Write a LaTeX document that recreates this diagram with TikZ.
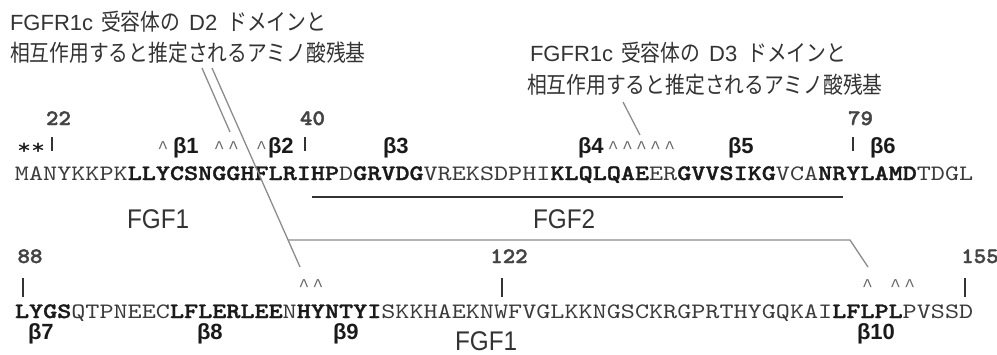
\documentclass[tikz,border=0pt]{standalone}
\usepackage{fontspec}
\setmainfont{Liberation Sans}
\newfontfamily\jpfont{Noto Sans CJK JP}[FakeStretch=0.86]
\newfontfamily\latfont{Liberation Sans}
\newfontfamily\labfont{Liberation Sans}[FakeStretch=0.9]
\newfontfamily\crtfont{Liberation Mono}
\newfontfamily\seqfont{lmmono10-regular.otf}[FakeStretch=1.22, BoldFont=lmmonolt10-bold.otf, BoldFeatures={FakeBold=1.5}]
\newfontfamily\numfont{lmmonolt10-bold.otf}[FakeBold=2, FakeStretch=1.08]
\definecolor{txt}{HTML}{333333}
\definecolor{seqn}{HTML}{3A3A3A}
\definecolor{seqb}{HTML}{1A1A1A}
\definecolor{numc}{HTML}{444444}
\definecolor{conn}{HTML}{8C8C8C}
\definecolor{mark}{HTML}{666666}
\newcommand\jpf{\jpfont\fontsize{23}{25}\selectfont}
\newcommand\latf{\latfont\fontsize{22}{25}\selectfont}
\newcommand\sqb[1]{{\bfseries\color{seqb}#1}}
\newcommand\crt{\textasciicircum}
\begin{document}
\begin{tikzpicture}[x=1pt,y=-1pt,
  every node/.style={inner sep=0pt, outer sep=0pt},
  jplbl/.style={anchor=base west, text=txt},
  seqline/.style={anchor=base west, text=seqn, font=\seqfont\fontsize{22}{24}\selectfont},
  caret/.style={anchor=base, text=mark, font=\crtfont\fontsize{18}{20}\selectfont},
  star/.style={anchor=base west, text=seqb, font=\seqfont\fontsize{22}{24}\selectfont},
  numlbl/.style={anchor=base, text=numc, font=\numfont\fontsize{22}{24}\selectfont},
  betalbl/.style={anchor=base west, text=seqb, font=\latfont\bfseries\fontsize{22}{24}\selectfont},
  fgflbl/.style={anchor=base west, text=txt, font=\labfont\fontsize{27}{30}\selectfont},
  conn/.style={draw=conn, line width=1.3pt},
  bar/.style={draw=txt, line width=1.6pt},
  uline/.style={draw=txt, line width=1.6pt}]
\useasboundingbox (0,0) rectangle (997,354);

% labels at top
\node[jplbl] (d2a) at (10,30.5) {\latf FGFR1c\hspace{8pt}\jpf 受容体の\hspace{9pt}\latf D2\hspace{10pt}\jpf ドメインと};
\node[jplbl] (d2b) at (10,61.5) {\jpf 相互作用すると推定されるアミノ酸残基};
\node[jplbl] (d3a) at (530,61.5) {\latf FGFR1c\hspace{8pt}\jpf 受容体の\hspace{9pt}\latf D3\hspace{10pt}\jpf ドメインと};
\node[jplbl] (d3b) at (527,93.5) {\jpf 相互作用すると推定されるアミノ酸残基};

% numbers
\node[numlbl] (n22) at (58.5,125) {22};
\node[numlbl] (n40) at (312.5,125) {40};
\node[numlbl] (n79) at (860.5,125) {79};
\node[numlbl] (n88) at (30,263) {88};
\node[numlbl] (n122) at (509,263) {122};
\node[numlbl] (n155) at (980,263) {155};

% row 1 markers
\node[star] (stars) at (17,154) {**};
\foreach \i/\x in {1/163, 2/219.3, 3/233.4, 4/261.5, 5/613.3, 6/627.4, 7/641.5, 8/655.6, 9/669.7}
  \node[caret] (ca\i) at (\x,153.5) {\crt};
\node[betalbl] (b1) at (173,153) {β1};
\node[betalbl] (b2) at (268,153) {β2};
\node[betalbl] (b3) at (383,153) {β3};
\node[betalbl] (b4) at (578,153) {β4};
\node[betalbl] (b5) at (728,153) {β5};
\node[betalbl] (b6) at (870,153) {β6};
\coordinate (t1a) at (52,137); \coordinate (t1b) at (52,151);
\coordinate (t2a) at (305,137); \coordinate (t2b) at (305,151);
\coordinate (t3a) at (853,137); \coordinate (t3b) at (853,151);
\draw[bar] (t1a) -- (t1b);
\draw[bar] (t2a) -- (t2b);
\draw[bar] (t3a) -- (t3b);

% sequence line 1
\node[seqline] (seq1) at (15,180) {MANYKKPK\sqb{LLYCSNGGHFLRIHP}D\sqb{GRVDG}VREKSDPHI\sqb{KLQLQAE}ER\sqb{GVVSIKG}VCA\sqb{NRYLAMD}TDGL};

% underline and labels
\coordinate (u1) at (312,197); \coordinate (u2) at (843,197);
\draw[uline] (u1) -- (u2);
\node[fgflbl] (fgf1a) at (127,228) {FGF1};
\node[fgflbl] (fgf2) at (533,228) {FGF2};

% row 2 markers
\foreach \i/\x in {1/303.9, 2/318, 3/867.4, 4/895.6, 5/909.7}
  \node[caret] (cb\i) at (\x,291.5) {\crt};
\coordinate (t4a) at (23,278); \coordinate (t4b) at (23,297);
\coordinate (t5a) at (502,278); \coordinate (t5b) at (502,297);
\coordinate (t6a) at (965,278); \coordinate (t6b) at (965,297);
\draw[bar] (t4a) -- (t4b);
\draw[bar] (t5a) -- (t5b);
\draw[bar] (t6a) -- (t6b);

% sequence line 2
\node[seqline] (seq2) at (15,318) {\sqb{LYGS}QTPNEEC\sqb{LFLERLEE}N\sqb{HYNTYI}SKKHAEKNWFVGLKKNGSCKRGPRTHYGQKAI\sqb{LFLPL}PVSSD};

\node[betalbl] (b7) at (28,339) {β7};
\node[betalbl] (b8) at (197,339) {β8};
\node[betalbl] (b9) at (333,339) {β9};
\node[betalbl] (b10) at (857,339) {β10};
\node[fgflbl] (fgf1b) at (455,350) {FGF1};

% connector lines
\coordinate (s1) at (202,68); \coordinate (e1) at (230,132);
\coordinate (s2) at (212,68); \coordinate (e2) at (300,267);
\coordinate (br) at (288.1,240); \coordinate (k1) at (850,240); \coordinate (e3) at (868,267);
\coordinate (s3) at (623,102); \coordinate (e4) at (640,135);
\draw[conn] (s1) -- (e1);
\draw[conn] (s2) -- (e2);
\draw[conn] (br) -- (k1) -- (e3);
\draw[conn] (s3) -- (e4);
\end{tikzpicture}
\end{document}
